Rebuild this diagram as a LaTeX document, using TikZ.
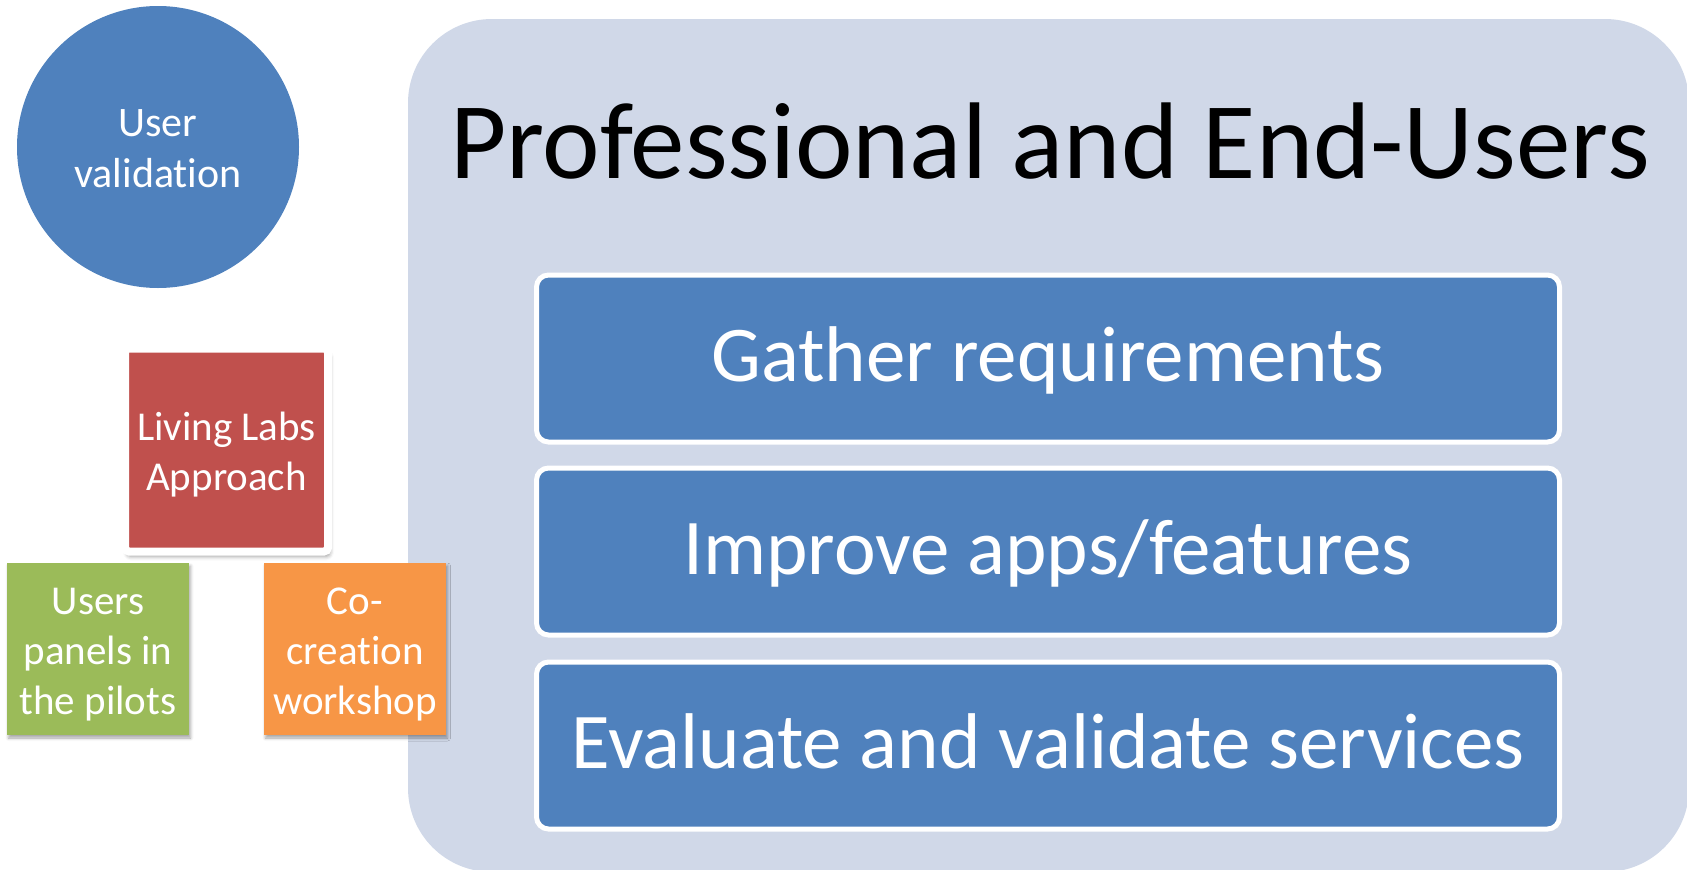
\documentclass[tikz,border=0pt]{standalone}
\usepackage{fontspec}
\setmainfont[Ligatures=NoCommon]{Carlito}
\usetikzlibrary{shadows.blur}

\definecolor{panelfill}{HTML}{D0D8E8}
\definecolor{accentblue}{HTML}{4F81BD}
\definecolor{accentred}{HTML}{C0504D}
\definecolor{accentgreen}{HTML}{9BBB59}
\definecolor{accentorange}{HTML}{F79646}

% invisible rule that gives every text line the same height and depth
\newcommand{\linestrut}{\rule[-10pt]{0pt}{50pt}}

\tikzset{
  stepbox/.style={draw=white, line width=5pt, fill=accentblue, rounded corners=12pt,
    minimum width=1023pt, minimum height=167pt, inner sep=0pt, text=white,
    font=\fontsize{79}{95}\selectfont, text height=50pt, text depth=4pt},
  smallbox/.style={minimum width=182pt, minimum height=172pt, inner sep=0pt,
    text=white, align=center, font=\fontsize{41}{50}\selectfont,
    blur shadow={shadow xshift=1.5pt, shadow yshift=-3pt, shadow blur radius=3pt, shadow opacity=35}},
}

\begin{document}
\begin{tikzpicture}[x=1pt,y=-1pt]
\useasboundingbox (0,0) rectangle (1687,870);

% large panel on the right
\node (panel) [fill=panelfill, rounded corners=84pt, minimum width=1281pt,
  minimum height=853pt, inner sep=0pt] at (1048.5,445.5) {};
\node (title) [anchor=base, font=\fontsize{109}{131}\selectfont, inner sep=0pt]
  at (1050,178) {Professional and End-Users};

% stacked activity boxes
\node (gather)   [stepbox] at (1048,358.5) {Gather requirements};
\node (improve)  [stepbox] at (1048,551.5) {Improve apps/features};
\node (evaluate) [stepbox] at (1048,745.5) {Evaluate and validate services};

% user validation circle
\node (uservalid) [circle, fill=accentblue, minimum size=282pt, inner sep=0pt,
  text=white, align=center, font=\fontsize{42}{51}\selectfont] at (158,147)
  {\linestrut User\\\linestrut validation};

% living labs approach and its two methods
\node (livinglabs) [draw=white, line width=8pt, fill=accentred, rounded corners=4pt,
  minimum width=203pt, minimum height=203pt, inner sep=0pt, text=white, align=center,
  font=\fontsize{41}{50}\selectfont,
  blur shadow={shadow xshift=2pt, shadow yshift=-5pt, shadow blur radius=4pt, shadow opacity=40}]
  at (226.5,450) {\linestrut Living Labs\\\linestrut Approach};
\node (panels) [smallbox, fill=accentgreen] at (98,649)
  {\linestrut Users\\\linestrut panels in\\\linestrut the pilots};
\node (cocreation) [smallbox, fill=accentorange] at (355,649)
  {\linestrut Co-\\\linestrut creation\\\linestrut workshop};
\end{tikzpicture}
\end{document}
